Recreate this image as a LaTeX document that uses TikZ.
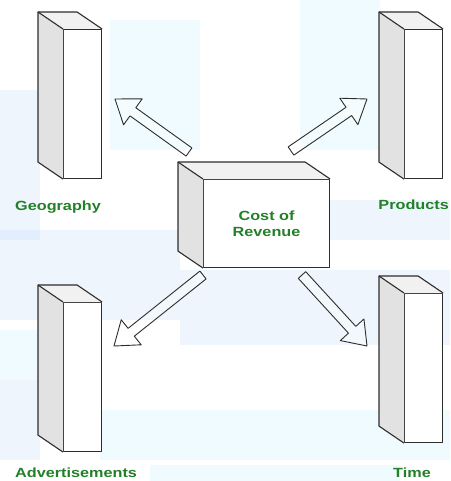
\documentclass[tikz,border=0pt]{standalone}
\usepackage{fontspec}
\usetikzlibrary{calc}
\newfontfamily\lblfont{Liberation Sans}[FakeStretch=1.22]
\definecolor{lblgreen}{RGB}{34,128,40}
\definecolor{edgegray}{RGB}{45,45,45}
\definecolor{sidegray}{RGB}{226,226,226}
\definecolor{topgray}{RGB}{241,241,241}
\definecolor{bgblue}{RGB}{200,225,250}
\definecolor{bgcyan}{RGB}{205,245,252}
\tikzset{
  face/.style={draw=edgegray, line width=1.1pt, line join=round},
  frontface/.style={face, fill=white, rectangle, inner sep=0pt},
  pillarface/.style={frontface, minimum width=38pt, minimum height=149pt},
  cubeface/.style={frontface, minimum width=126pt, minimum height=88pt,
    font=\lblfont\fontsize{13.3pt}{15.5pt}\selectfont\bfseries, text=lblgreen, align=center},
  lbl/.style={font=\lblfont\fontsize{13.3pt}{15pt}\selectfont\bfseries, text=lblgreen, inner sep=0pt},
  blockarr/.style={draw=edgegray, line width=0.9pt, fill=white, fill opacity=0.35, draw opacity=1, line join=round},
  bgpatch/.style={draw=none, fill opacity=0.3}
}
\newcommand\boxfaces[1]{%
  \fill[sidegray] (#1.north west) -- ++(-25,-17) -- ($(#1.south west)+(-25,-17)$) -- (#1.south west) -- cycle;
  \fill[topgray] (#1.north west) -- ++(-25,-17) -- ($(#1.north east)+(-25,-17)$) -- (#1.north east) -- cycle;
  \draw[face] (#1.south west) -- ++(-25,-17) -- ($(#1.north west)+(-25,-17)$) -- ($(#1.north east)+(-25,-17)$) -- (#1.north east);
  \draw[face] (#1.north west) -- ++(-25,-17);
}
\newcommand\blockarrow[2]{%
  \coordinate (#1-n) at ($(#2)!22pt!(#1)$);
  \draw[blockarr] ($(#1)!5pt!90:(#2)$) -- ($(#1-n)!5pt!-90:(#1)$) -- ($(#1-n)!16pt!-90:(#1)$) -- (#2)
    -- ($(#1-n)!16pt!90:(#1)$) -- ($(#1-n)!5pt!90:(#1)$) -- ($(#1)!5pt!-90:(#2)$) -- cycle;
}
\begin{document}
\begin{tikzpicture}[x=1pt,y=-1pt]
\useasboundingbox (0,0) rectangle (450,481);
\fill[white] (0,0) rectangle (450,481);
% faint background watermark
\fill[bgcyan, bgpatch] (110,20) rectangle (200,150);
\fill[bgcyan, bgpatch] (300,0) rectangle (380,150);
\fill[bgblue, bgpatch] (0,90) rectangle (40,240);
\fill[bgblue, bgpatch] (0,230) rectangle (180,320);
\fill[bgblue, bgpatch] (180,270) rectangle (450,345);
\fill[bgcyan, bgpatch] (0,330) rectangle (40,380);
\fill[bgblue, bgpatch] (0,380) rectangle (40,460);
\fill[bgcyan, bgpatch] (100,410) rectangle (450,460);
\fill[bgcyan, bgpatch] (150,465) rectangle (400,481);
\fill[bgblue, bgpatch] (330,200) rectangle (450,240);

% pillars and cube (front faces)
\node[pillarface, anchor=north west] (geo) at (63,29) {};
\node[pillarface, anchor=north west] (prod) at (404,29) {};
\node[pillarface, anchor=north west] (adv) at (63,302) {};
\node[pillarface, anchor=north west] (time) at (404,293) {};
\boxfaces{geo}
\boxfaces{prod}
\boxfaces{adv}
\boxfaces{time}
\node[cubeface, anchor=north west] (cost) at (203,179) {Cost of\\Revenue};
\boxfaces{cost}

% labels
\node[lbl, anchor=base west] (geolbl) at (15,210) {Geography};
\node[lbl, anchor=base east] (prodlbl) at (449,209) {Products};
\node[lbl, anchor=base west] (advlbl) at (15,477) {Advertisements};
\node[lbl, anchor=base west] (timelbl) at (393,477) {Time};

% block arrows
\coordinate (tg) at (189,152);
\coordinate (hg) at (115,99);
\coordinate (tp) at (291,151);
\coordinate (hp) at (367,99);
\coordinate (ta) at (203,275);
\coordinate (ha) at (114,346);
\coordinate (tt) at (302,275);
\coordinate (ht) at (367,346);
\blockarrow{tg}{hg}
\blockarrow{tp}{hp}
\blockarrow{ta}{ha}
\blockarrow{tt}{ht}
\end{tikzpicture}
\end{document}
